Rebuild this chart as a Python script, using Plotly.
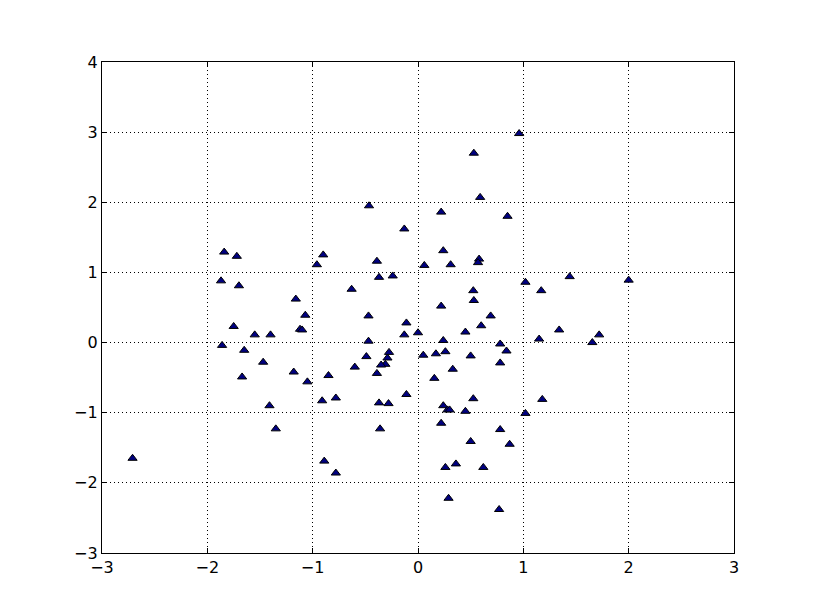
import plotly.graph_objects as go

x_vals = [-2.71, -1.84, -1.72, -1.87, -1.70, -1.75, -1.55, -1.40, -1.86, -1.65,
          -1.47, -1.67, -1.41, -1.35, -1.16, -1.07, -1.12, -1.10, -1.18, -1.05,
          -0.96, -0.90, -0.91, -0.85, -0.78, -0.89, -0.78, -0.63, -0.60, -0.465,
          -0.47, -0.47, -0.49, -0.39, -0.37, -0.24, -0.275, -0.29, -0.31, -0.35,
          -0.39, -0.37, -0.28, -0.36, -0.13, -0.11, -0.13, -0.11, 0.00, 0.06,
          0.05, 0.22, 0.24, 0.22, 0.24, 0.17, 0.155, 0.26, 0.31, 0.33,
          0.24, 0.28, 0.30, 0.22, 0.26, 0.36, 0.29, 0.45, 0.45, 0.50,
          0.50, 0.53, 0.525, 0.53, 0.525, 0.59, 0.58, 0.57, 0.60, 0.69,
          0.62, 0.78, 0.78, 0.85, 0.84, 0.78, 0.87, 0.77, 0.96, 1.02,
          1.02, 1.15, 1.17, 1.18, 1.34, 1.44, 1.655, 1.72, 2.00]
y_vals = [-1.65, 1.29, 1.23, 0.88, 0.81, 0.23, 0.11, 0.11, -0.04, -0.11,
          -0.28, -0.49, -0.90, -1.23, 0.62, 0.39, 0.19, 0.18, -0.42, -0.56,
          1.11, 1.25, -0.83, -0.47, -0.79, -1.69, -1.86, 0.76, -0.35, 1.95,
          0.38, 0.02, -0.20, 1.16, 0.93, 0.95, -0.14, -0.22, -0.31, -0.32,
          -0.44, -0.86, -0.87, -1.23, 1.62, 0.28, 0.11, -0.74, 0.14, 1.10,
          -0.18, 1.86, 1.31, 0.52, 0.03, -0.16, -0.51, -0.13, 1.11, -0.38,
          -0.90, -0.96, -0.96, -1.15, -1.78, -1.73, -2.22, 0.15, -0.98, -0.19,
          -1.41, 2.70, 0.74, 0.60, -0.80, 2.07, 1.19, 1.14, 0.24, 0.38,
          -1.78, -0.02, -0.29, 1.80, -0.12, -1.24, -1.45, -2.38, 2.98, 0.86,
          -1.01, 0.05, 0.74, -0.81, 0.18, 0.94, 0.00, 0.11, 0.89]

x_ticks = [-3, -2, -1, 0, 1, 2, 3]
y_ticks = [-3, -2, -1, 0, 1, 2, 3, 4]

fig = go.Figure()
fig.add_trace(go.Scatter(
    x=x_vals, y=y_vals, mode="markers",
    marker=dict(symbol="triangle-up", size=8, color="#000080",
                line=dict(color="black", width=1)),
    showlegend=False,
))

tick_font = dict(family="DejaVu Sans", size=16, color="black")
axis_common = dict(
    showline=True, linecolor="black", linewidth=1.2, mirror="ticks",
    ticks="inside", ticklen=5, tickcolor="black", tickwidth=1,
    showgrid=True, gridcolor="black", griddash="1px,3px", gridwidth=1,
    zeroline=False, tickfont=tick_font,
)
fig.update_xaxes(range=[-3, 3], tickvals=x_ticks,
                 ticktext=[str(v).replace("-", "\u2212") for v in x_ticks],
                 **axis_common)
fig.update_yaxes(range=[-3, 4], tickvals=y_ticks,
                 ticktext=[str(v).replace("-", "\u2212") for v in y_ticks],
                 **axis_common)

fig.update_layout(
    width=815, height=615,
    margin=dict(l=94, r=89, t=54, b=70),
    paper_bgcolor="white", plot_bgcolor="white",
)

fig.write_html("out.html")
